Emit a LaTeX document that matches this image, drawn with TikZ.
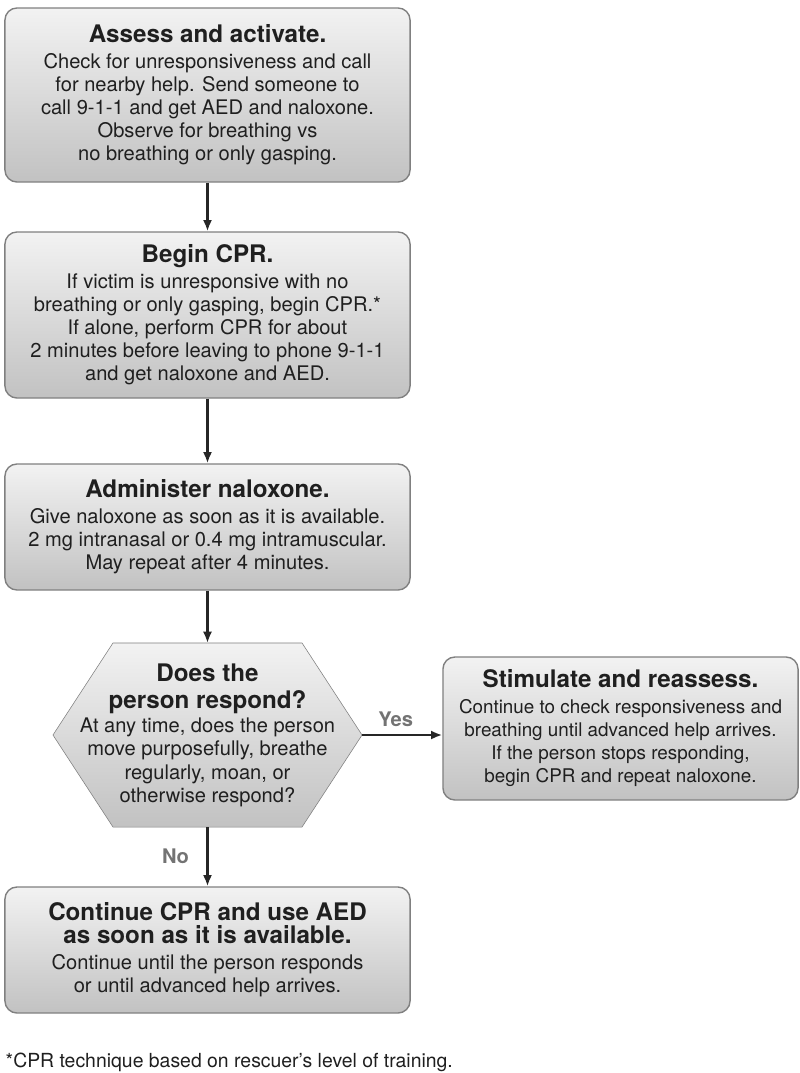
\documentclass[tikz,border=0pt]{standalone}
\usepackage{fontspec}
\setmainfont{TeX Gyre Heros}
\usepackage{tikz}
\usetikzlibrary{arrows.meta,positioning,backgrounds}

\newcommand{\head}[1]{{\fontsize{17.2}{19}\selectfont\bfseries #1}}

\begin{document}
\begin{tikzpicture}[x=0.025cm, y=-0.025cm, line width=1pt,
    font=\fontsize{14.3}{16.4}\selectfont, text=black!88,
    stepbox/.style={rectangle, rounded corners=0.3cm, draw=black!50,
      top color=gray!10, bottom color=gray!48, align=center,
      minimum width=10.125cm},
    askbox/.style={rectangle, align=center, inner sep=0pt, outer sep=0pt,
      minimum width=7.725cm, minimum height=4.6cm},
    hexfill/.style={draw=black!50, top color=gray!10, bottom color=gray!48},
    yesno/.style={font=\fontsize{14.3}{16}\selectfont\bfseries, text=black!55}]
   \useasboundingbox (0,0) rectangle (800,1073);
   \begin{scope}[every node/.style={stepbox}]
    \node (assess) [minimum height=4.35cm] at (207.5,95)
      {\head{Assess and activate.}\\[2pt]
       Check for unresponsiveness and call\\
       for nearby help. Send someone to\\
       call 9-1-1 and get AED and naloxone.\\
       Observe for breathing vs\\
       no breathing or only gasping.};
    \node (cpr) [minimum height=4.15cm] at (207.5,315)
      {\head{Begin CPR.}\\[2pt]
       If victim is unresponsive with no\\
       breathing or only gasping, begin CPR.*\\
       If alone, perform CPR for about\\
       2 minutes before leaving to phone 9-1-1\\
       and get naloxone and AED.};
    \node (drug) [minimum height=3.15cm] at (207.5,527)
      {\head{Administer naloxone.}\\[2pt]
       Give naloxone as soon as it is available.\\
       2 mg intranasal or 0.4 mg intramuscular.\\
       May repeat after 4 minutes.};
    \node (stim) [minimum width=8.875cm, minimum height=3.575cm,
        font=\fontsize{13.4}{16.4}\selectfont] at (620.5,728.5)
      {\head{Stimulate and reassess.}\\[2pt]
       Continue to check responsiveness and\\
       breathing until advanced help arrives.\\
       If the person stops responding,\\
       begin CPR and repeat naloxone.};
    \node (keep) [minimum height=3.15cm] at (207.5,950)
      {\head{Continue CPR and use AED}\\
       \head{as soon as it is available.}\\[2pt]
       Continue until the person responds\\
       or until advanced help arrives.};
   \end{scope}
   \node (ask) [askbox] at (207.5,735)
      {\head{Does the}\\[3pt]
       \head{person respond?}\\[1pt]
       At any time, does the person\\
       move purposefully, breathe\\
       regularly, moan, or\\
       otherwise respond?};
   \begin{scope}[on background layer]
    \draw[hexfill] ([xshift=1.5cm]ask.north west) -- ([xshift=-1.5cm]ask.north east)
      -- (ask.east) -- ([xshift=-1.5cm]ask.south east)
      -- ([xshift=1.5cm]ask.south west) -- (ask.west) -- cycle;
   \end{scope}
   \node (note) [anchor=west, inner sep=0pt, font=\fontsize{13.8}{16}\selectfont]
      at (5,1062) {*CPR technique based on rescuer's level of training.};
   \begin{scope}[-{Latex[length=8pt,width=6.5pt]},
       every edge/.style={draw=black!85, line width=1.6pt}]
    \draw (assess) edge (cpr);
    \draw (cpr) edge (drug);
    \draw (drug) edge (ask);
    \draw (ask) edge node[yesno, above=2pt, pos=0.42] {Yes} (ask -| stim.west);
    \draw (ask) edge node[yesno, left=9pt] {No} (keep);
   \end{scope}
\end{tikzpicture}
\end{document}
